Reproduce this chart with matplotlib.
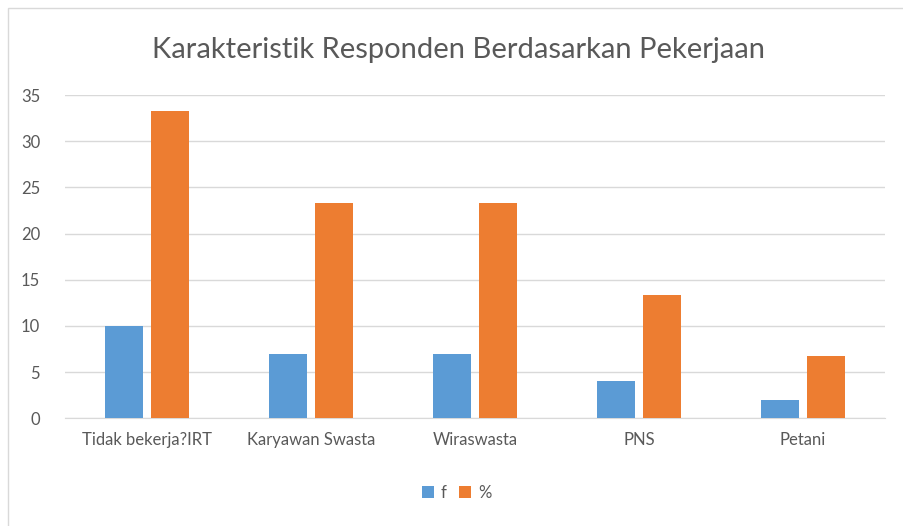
import matplotlib.pyplot as plt
import numpy as np
from matplotlib.patches import Rectangle

plt.rcParams['font.family'] = ['Lato', 'DejaVu Sans']

categories = ['Tidak bekerja?IRT', 'Karyawan Swasta', 'Wiraswasta', 'PNS', 'Petani']
f_values = [10, 7, 7, 4, 2]
pct_values = [33.3, 23.3, 23.3, 13.3, 6.7]
yticks = [0, 5, 10, 15, 20, 25, 30, 35]

blue = '#5b9bd5'
orange = '#ed7d31'
text_color = '#595959'

fig = plt.figure(figsize=(9.04, 5.26), dpi=100)
ax = fig.add_axes([0.072, 0.205, 0.907, 0.614])

# chart border (only left and top edges fall inside the image)
fig.patches.append(Rectangle((8 / 904, -0.05), 1.1, 1.05 - 8 / 526, transform=fig.transFigure,
                             fill=False, edgecolor='#d9d9d9', linewidth=1))

x = np.arange(len(categories))
w = 0.23
ax.bar(x - 0.14, f_values, width=w, color=blue, label='f', zorder=3)
ax.bar(x + 0.14, pct_values, width=w, color=orange, label='%', zorder=3)

ax.set_xlim(-0.5, len(categories) - 0.5)
ax.set_ylim(0, 35)
ax.set_yticks(yticks)
ax.yaxis.grid(True, color='#d9d9d9', linewidth=1, zorder=0)
ax.set_xticks(x)
ax.set_xticklabels(categories, fontsize=12, color=text_color)
ax.tick_params(axis='y', labelsize=12, labelcolor=text_color, length=0, pad=18)
ax.tick_params(axis='x', length=0, pad=10)
for s in ['top', 'right', 'left']:
    ax.spines[s].set_visible(False)
ax.spines['bottom'].set_color('#d9d9d9')

fig.text(0.507, 0.905, 'Karakteristik Responden Berdasarkan Pekerjaan', ha='center', va='center',
         fontsize=21, color=text_color)

fig.legend(loc='center', bbox_to_anchor=(0.505, 0.063), ncol=2, frameon=False, fontsize=12,
           handlelength=0.7, handleheight=0.7, handletextpad=0.4, columnspacing=0.8,
           labelcolor=text_color)

fig.savefig('out.png', dpi=100)
